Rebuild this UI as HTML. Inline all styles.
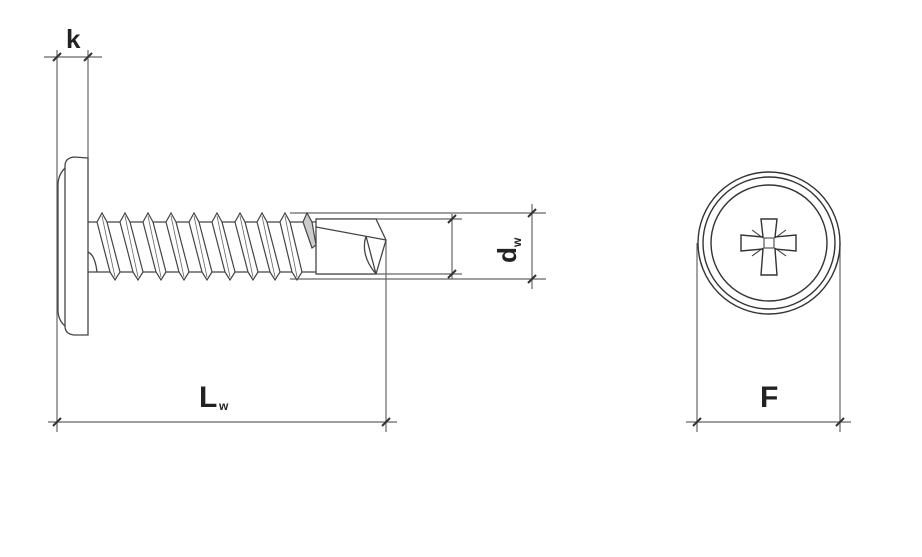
<!DOCTYPE html>
<html><head><meta charset="utf-8"><style>
html,body{margin:0;padding:0;background:#fff;}
svg{display:block;}
text{font-family:"Liberation Sans",sans-serif;font-weight:bold;fill:#222;}
</style></head><body>
<svg width="922" height="557" viewBox="0 0 922 557" xmlns="http://www.w3.org/2000/svg">
<rect width="922" height="557" fill="#fff"/>
<g stroke="#666" stroke-width="1.2" fill="none">
 <line x1="57" y1="50" x2="57" y2="432"/>
 <line x1="88" y1="50" x2="88" y2="158"/>
 <line x1="44" y1="57" x2="102" y2="57"/>
 <line x1="48" y1="422" x2="397" y2="422"/>
 <line x1="386" y1="240" x2="386" y2="432"/>
 <line x1="290" y1="213" x2="546" y2="213"/>
 <line x1="290" y1="279" x2="546" y2="279"/>
 <line x1="316" y1="219" x2="462" y2="219"/>
 <line x1="316" y1="274" x2="462" y2="274"/>
 <line x1="452" y1="214" x2="452" y2="279"/>
 <line x1="532" y1="204" x2="532" y2="289"/>
 <line x1="697" y1="243" x2="697" y2="432"/>
 <line x1="840" y1="243" x2="840" y2="432"/>
 <line x1="686" y1="422" x2="851" y2="422"/>
</g>
<g stroke="#333" stroke-width="2">
 <line x1="53" y1="61" x2="61" y2="53"/><line x1="84" y1="61" x2="92" y2="53"/>
 <line x1="53" y1="426" x2="61" y2="418"/><line x1="382" y1="426" x2="390" y2="418"/>
 <line x1="448" y1="223" x2="456" y2="215"/><line x1="448" y1="278" x2="456" y2="270"/>
 <line x1="528" y1="217" x2="536" y2="209"/><line x1="528" y1="283" x2="536" y2="275"/>
 <line x1="693" y1="426" x2="701" y2="418"/><line x1="836" y1="426" x2="844" y2="418"/>
</g>
<g stroke="#444" stroke-width="1.3" fill="none">
 <path d="M88 158 L74 157 Q65 158 65 166 L65 326 Q65 334 74 335 L88 335 Z" fill="#fff"/>
 <path d="M65 168 Q58 175 58 185 L58 310 Q58 320 65 326"/>
 <line x1="88" y1="222" x2="316" y2="222"/>
 <line x1="88" y1="272" x2="316" y2="272"/>
 <path d="M316 219 L376 219 L386 240 L376 274 L316 274 Z" fill="#fff"/>
 <path d="M316 227 L386 240 M366 236 L376 274 M366 236 Q360 255 376 274"/>
 <path d="M88 252 Q95 255 97 272"/>
</g>
<g stroke="#444" stroke-width="1.2" fill="#fff">
 <path d="M97 222 L102 213 L107 222 L120 272 L115 280 L110 272 Z"/>
 <path d="M120 222 L125 213 L130 222 L143 272 L138 280 L133 272 Z"/>
 <path d="M143 222 L148 213 L153 222 L166 272 L161 280 L156 272 Z"/>
 <path d="M166 222 L171 213 L176 222 L189 272 L184 280 L179 272 Z"/>
 <path d="M189 222 L194 213 L199 222 L212 272 L207 280 L202 272 Z"/>
 <path d="M212 222 L217 213 L222 222 L235 272 L230 280 L225 272 Z"/>
 <path d="M235 222 L240 213 L245 222 L258 272 L253 280 L248 272 Z"/>
 <path d="M257 222 L262 213 L267 222 L280 272 L275 280 L270 272 Z"/>
 <path d="M280 222 L285 213 L290 222 L302 272 L297 280 L292 272 Z"/>
 <path d="M303 222 L307 213 L312 222 L316 245 L312 248 Z" fill="#ccc"/>
</g>
<g stroke="#666" stroke-width="0.8">
 <line x1="102" y1="216" x2="115" y2="277"/><line x1="125" y1="216" x2="138" y2="277"/>
 <line x1="148" y1="216" x2="161" y2="277"/><line x1="171" y1="216" x2="184" y2="277"/>
 <line x1="194" y1="216" x2="207" y2="277"/><line x1="217" y1="216" x2="230" y2="277"/>
 <line x1="240" y1="216" x2="253" y2="277"/><line x1="262" y1="216" x2="275" y2="277"/>
 <line x1="285" y1="216" x2="297" y2="277"/>
</g>
<g stroke="#333" stroke-width="1.4" fill="none">
 <circle cx="769" cy="243" r="71"/>
 <circle cx="769" cy="243" r="66"/>
 <circle cx="769" cy="243" r="58"/>
 <path d="M761 219 L777 219 L775 237 L796 235 L796 251 L775 249 L777 275 L761 275 L763 249 L741 251 L741 235 L763 237 Z"/>
 <rect x="764" y="238" width="10" height="10" stroke-width="1"/>
 <path d="M752 230 L763 238 M786 230 L775 238 M752 256 L763 248 M786 256 L775 248" stroke-width="1"/>
</g>
<text x="66" y="48" font-size="26">k</text>
<text x="199" y="407" font-size="30">L</text>
<text x="219" y="410" font-size="12" font-weight="normal" fill="#555">w</text>
<text x="760" y="407" font-size="30">F</text>
<g transform="translate(516,263) rotate(-90)">
 <text x="0" y="0" font-size="26">d</text>
 <text x="16" y="5" font-size="12" font-weight="normal" fill="#555">w</text>
</g>
</svg>
</body></html>
